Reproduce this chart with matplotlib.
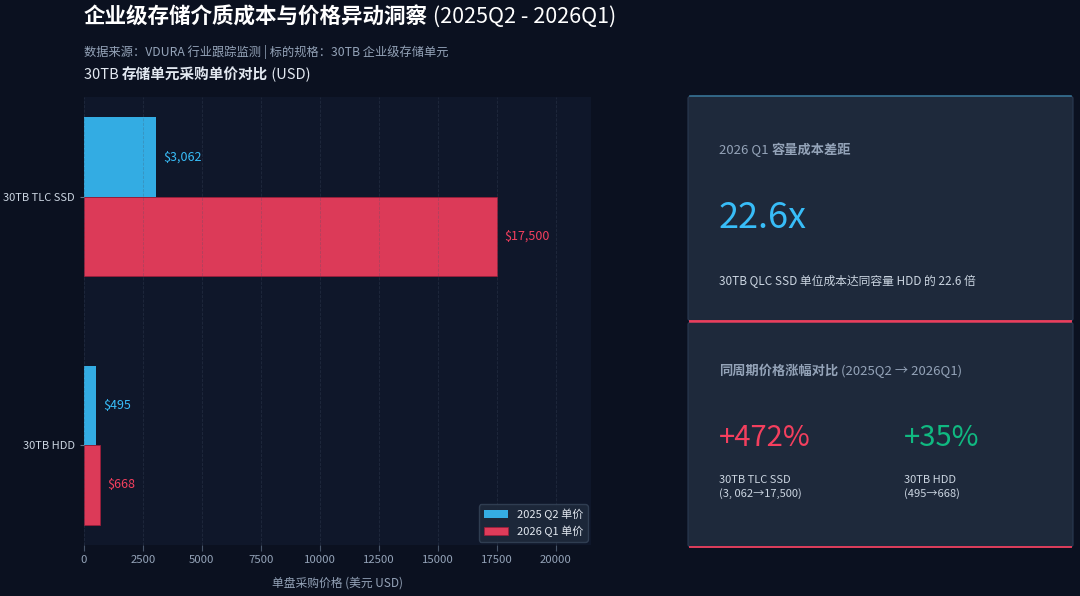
import numpy as np
import matplotlib
matplotlib.use("Agg")
import matplotlib.pyplot as plt
from matplotlib.patches import FancyBboxPatch
from matplotlib.lines import Line2D

plt.rcParams['font.family'] = ['Noto Sans CJK SC', 'DejaVu Sans']

# data
categories = ["30TB TLC SSD", "30TB HDD"]
price_q2 = [3062, 495]
price_q1 = [17500, 668]
series_names = ["2025 Q2 单价", "2026 Q1 单价"]
xticks = [0, 2500, 5000, 7500, 10000, 12500, 15000, 17500, 20000]

gap_ratio = "22.6x"
ssd_rise = "+472%"
hdd_rise = "+35%"

BG = "#0b1120"
AX_BG = "#0f172a"
CARD = "#1e293b"
CYAN = "#38bdf8"
RED = "#f43f5e"
GREEN = "#10b981"
GRAY = "#94a3b8"
LIGHT = "#cbd5e1"

W, H = 1080, 596
fig = plt.figure(figsize=(W / 100, H / 100), dpi=100, facecolor=BG)


def px(x, y):
    # pixel coords (top-left origin) -> figure fraction
    return x / W, 1 - y / H


renderer = fig.canvas.get_renderer()


def rich_text(x, y, parts, size, va="center"):
    # parts: list of (text, color, weight); laid out left to right
    fx, fy = px(x, y)
    for s, c, wgt in parts:
        t = fig.text(fx, fy, s, color=c, fontsize=size, fontweight=wgt, va=va, ha="left")
        fx += t.get_window_extent(renderer).width / W


# titles
rich_text(84, 17, [("企业级存储介质成本与价格异动洞察", "white", "bold"),
                   (" (2025Q2 - 2026Q1)", "white", "normal")], 15.5)
rich_text(84, 52, [("数据来源：VDURA 行业跟踪监测 | 标的规格：30TB 企业级存储单元", GRAY, "normal")], 8.8)
rich_text(84, 75, [("30TB ", "#e2e8f0", "normal"), ("存储单元采购单价对比", "#e2e8f0", "bold"),
                   (" (USD)", "#e2e8f0", "normal")], 10.5)

# bar chart
l, t = px(84, 97)
r, b = px(591, 545)
ax = fig.add_axes([l, b, r - l, t - b])
ax.set_facecolor(AX_BG)

y = np.arange(len(categories))
h = 0.32
bars_q2 = ax.barh(y - h / 2, price_q2, height=h, color=CYAN, alpha=0.9, label=series_names[0])
bars_q1 = ax.barh(y + h / 2, price_q1, height=h, color=RED, alpha=0.9, label=series_names[1],
                  edgecolor="#9f1d3a", linewidth=0.6)
ax.set_xlim(0, 21500)
ax.invert_yaxis()
ax.set_yticks(y)
ax.set_yticklabels(categories)
ax.set_xticks(xticks)
ax.set_xticklabels([str(v) for v in xticks])

for bar, v in zip(bars_q2, price_q2):
    ax.text(bar.get_width() + 300, bar.get_y() + bar.get_height() / 2, f"${v:,}",
            color=CYAN, fontsize=9, va="center")
for bar, v in zip(bars_q1, price_q1):
    ax.text(bar.get_width() + 300, bar.get_y() + bar.get_height() / 2, f"${v:,}",
            color=RED, fontsize=9, va="center")

ax.grid(True, axis="x", color="#475569", linestyle="--", linewidth=0.6, alpha=0.3)
ax.set_axisbelow(False)
for sp in ax.spines.values():
    sp.set_visible(False)
ax.tick_params(axis="x", colors="#475569", labelcolor=GRAY, labelsize=8.2, length=4)
ax.tick_params(axis="y", colors="#64748b", labelcolor=LIGHT, labelsize=8, length=3)
ax.set_xlabel("单盘采购价格 (美元 USD)", color=GRAY, fontsize=8.5, labelpad=8)

leg = ax.legend(loc="lower right", fontsize=8, facecolor=CARD, edgecolor="#334155",
                labelcolor="#e2e8f0", borderaxespad=0.3, handlelength=2.2, framealpha=0.9)

# cards on the right
def card(x0, y0, x1, y1, top_color, bottom_color):
    fx0, fy1 = px(x0, y0)
    fx1, fy0 = px(x1, y1)
    fig.patches.append(FancyBboxPatch((fx0, fy0), fx1 - fx0, fy1 - fy0,
                                      boxstyle="round,pad=0,rounding_size=0.004",
                                      transform=fig.transFigure, facecolor=CARD,
                                      edgecolor="#2a3a52", linewidth=0.8))
    fig.lines.append(Line2D([fx0 + 0.002, fx1 - 0.002], [fy1, fy1], transform=fig.transFigure,
                            color=top_color, linewidth=1.2, alpha=0.8))
    fig.lines.append(Line2D([fx0 + 0.002, fx1 - 0.002], [fy0, fy0], transform=fig.transFigure,
                            color=bottom_color, linewidth=1.4, alpha=0.9))


card(688, 96, 1073, 321, "#3b82a6", RED)
card(688, 322, 1073, 547, RED, RED)

rich_text(719, 150, [("2026 Q1 ", GRAY, "normal"), ("容量成本差距", GRAY, "bold")], 9.5)
rich_text(719, 218, [(gap_ratio, CYAN, "normal")], 26)
rich_text(719, 281, [("30TB QLC SSD 单位成本达同容量 HDD 的 22.6 倍", LIGHT, "normal")], 8.5)

rich_text(719, 371, [("同周期价格涨幅对比", GRAY, "bold"), (" (2025Q2 → 2026Q1)", GRAY, "normal")], 9.5)
rich_text(719, 438, [(ssd_rise, RED, "normal")], 21)
rich_text(904, 438, [(hdd_rise, GREEN, "normal")], 21)
rich_text(719, 480, [("30TB TLC SSD", LIGHT, "normal")], 8)
rich_text(719, 494, [("(3, 062→17,500)", LIGHT, "normal")], 8)
rich_text(904, 480, [("30TB HDD", LIGHT, "normal")], 8)
rich_text(904, 494, [("(495→668)", LIGHT, "normal")], 8)

fig.savefig("out.png", dpi=100, facecolor=BG)
